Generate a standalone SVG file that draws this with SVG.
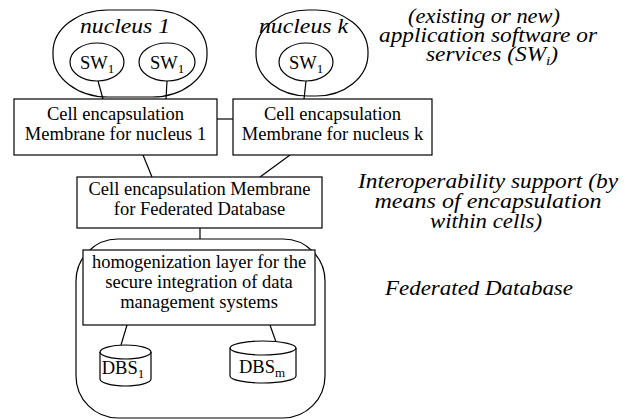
<svg xmlns="http://www.w3.org/2000/svg" width="636" height="419" viewBox="0 0 636 419">
<style>
.s{fill:none;stroke:#000;stroke-width:1.2}
.b{fill:#fff;stroke:#000;stroke-width:1.2}
.t{font-family:'Liberation Serif','Times New Roman',serif;font-size:18.5px;text-anchor:middle;fill:#000}
.i{font-family:'Liberation Serif','Times New Roman',serif;font-size:20px;font-style:italic;text-anchor:middle;fill:#000}
.sub{font-size:13px}
</style>
<rect width="636" height="419" fill="#fff"/>
<g id="connectors">
<line class="s" x1="98" y1="81" x2="103" y2="99"/>
<line class="s" x1="167" y1="81" x2="166" y2="99"/>
<line class="s" x1="306" y1="81" x2="304" y2="99"/>
<line class="s" x1="217" y1="119" x2="233" y2="119"/>
<line class="s" x1="143" y1="155" x2="152" y2="177"/>
<line class="s" x1="290" y1="155" x2="260" y2="177"/>
<line class="s" x1="200" y1="228" x2="200" y2="239"/>
<line class="s" x1="127" y1="325" x2="121" y2="345"/>
<line class="s" x1="270" y1="325" x2="276" y2="342"/>
</g>
<g id="nucleus1">
<rect class="s" x="53" y="10" width="154" height="87" rx="55" ry="42"/>
<text class="i" x="125" y="33" textLength="90" lengthAdjust="spacingAndGlyphs">nucleus 1</text>
</g>
<g id="sw1a">
<ellipse class="s" cx="97" cy="62" rx="27" ry="19"/>
<text class="t" x="97" y="69">SW<tspan class="sub" dy="4">1</tspan></text>
</g>
<g id="sw1b">
<ellipse class="s" cx="167" cy="62" rx="28" ry="19"/>
<text class="t" x="167" y="69">SW<tspan class="sub" dy="4">1</tspan></text>
</g>
<g id="nucleusk">
<rect class="s" x="256" y="10" width="112" height="86" rx="52" ry="42"/>
<text class="i" x="303.5" y="33" textLength="89" lengthAdjust="spacingAndGlyphs">nucleus k</text>
</g>
<g id="swk">
<ellipse class="s" cx="306" cy="62" rx="27" ry="19"/>
<text class="t" x="306" y="69">SW<tspan class="sub" dy="4">1</tspan></text>
</g>
<g id="membrane1">
<rect class="b" x="14" y="99" width="203" height="56"/>
<text class="t" x="115.5" y="120">Cell encapsulation</text>
<text class="t" x="115.5" y="140">Membrane for nucleus 1</text>
</g>
<g id="membranek">
<rect class="b" x="233" y="99" width="199" height="56"/>
<text class="t" x="332.5" y="120">Cell encapsulation</text>
<text class="t" x="332.5" y="140">Membrane for nucleus k</text>
</g>
<g id="membranefed">
<rect class="b" x="77" y="177" width="245" height="51"/>
<text class="t" x="199.5" y="195">Cell encapsulation Membrane</text>
<text class="t" x="199.5" y="215">for Federated Database</text>
</g>
<g id="federated">
<rect class="s" x="76" y="239" width="249" height="179" rx="42" ry="42"/>
</g>
<g id="homogenization">
<rect class="b" x="83" y="250" width="232" height="75"/>
<text class="t" x="199" y="268">homogenization layer for the</text>
<text class="t" x="199" y="288">secure integration of data</text>
<text class="t" x="199" y="308">management systems</text>
</g>
<g id="dbs1">
<path class="b" d="M100,352 A25.5,7 0 0 1 151,352 L151,379 A25.5,7 0 0 1 100,379 Z"/>
<path class="s" d="M100,352 A25.5,7 0 0 0 151,352"/>
<text class="t" x="123" y="374">DBS<tspan class="sub" dy="4">1</tspan></text>
</g>
<g id="dbsm">
<path class="b" d="M230,348 A33,7 0 0 1 296,348 L296,376 A33,7 0 0 1 230,376 Z"/>
<path class="s" d="M230,348 A33,7 0 0 0 296,348"/>
<text class="t" x="262" y="373">DBS<tspan class="sub" dy="4">m</tspan></text>
</g>
<g id="labels">
<text class="i" x="484" y="23" textLength="152" lengthAdjust="spacingAndGlyphs">(existing or new)</text>
<text class="i" x="488" y="42" textLength="218" lengthAdjust="spacingAndGlyphs">application software or</text>
<text class="i" x="0" y="0" style="text-anchor:start" transform="translate(426,61) scale(1.17,1)">services (SW<tspan class="sub" dy="4">i</tspan><tspan dy="-4">)</tspan></text>
<text class="i" x="488" y="188" textLength="260" lengthAdjust="spacingAndGlyphs">Interoperability support (by</text>
<text class="i" x="488" y="208" textLength="227" lengthAdjust="spacingAndGlyphs">means of encapsulation</text>
<text class="i" x="486" y="228" textLength="112" lengthAdjust="spacingAndGlyphs">within cells)</text>
<text class="i" x="479" y="295" textLength="188" lengthAdjust="spacingAndGlyphs">Federated Database</text>
</g>
</svg>
